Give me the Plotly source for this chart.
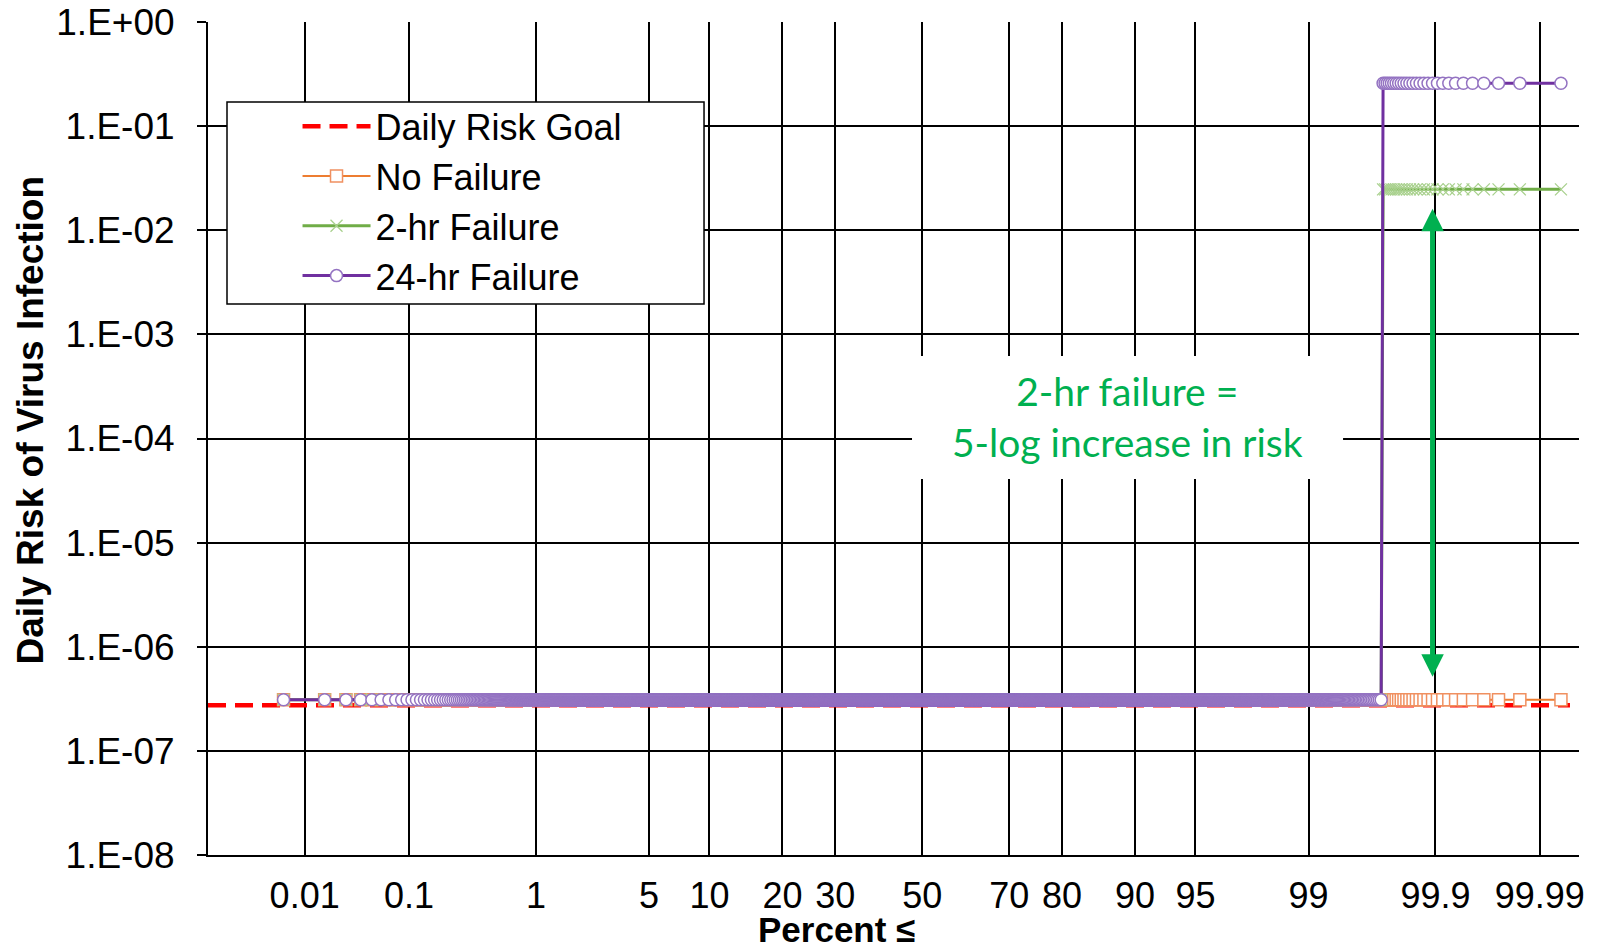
import math
import plotly.graph_objects as go
from statistics import NormalDist

# ---------------- data ----------------
N_DAYS = 10000  # simulated days ranked on the probability axis

percent_ticks = [0.01, 0.1, 1, 5, 10, 20, 30, 50, 70, 80, 90, 95, 99, 99.9, 99.99]
percent_tick_labels = ["0.01", "0.1", "1", "5", "10", "20", "30", "50",
                       "70", "80", "90", "95", "99", "99.9", "99.99"]
percent_axis_range = [0.00085, 99.99617]
goal_percent_span = [0.00085, 99.9952]

risk_ticks = [1e-8, 1e-7, 1e-6, 1e-5, 1e-4, 1e-3, 1e-2, 1e-1, 1e0]
risk_tick_labels = ["1.E-08", "1.E-07", "1.E-06", "1.E-05", "1.E-04",
                    "1.E-03", "1.E-02", "1.E-01", "1.E+00"]

goal_risk = 2.74e-7

# run-length description of the ranked daily risks (level, number of days)
no_failure_levels = [3.1e-7]
no_failure_days = [10000]
hr2_levels = [3.1e-7, 2.47e-2]
hr2_days = [9972, 28]
hr24_levels = [3.1e-7, 2.58e-1]
hr24_days = [9972, 28]

# arrow of the note: percent position and risk ends
arrow_percent = 99.894
arrow_risk_top = 0.0161
arrow_risk_bottom = 4.98e-7

# ---------------- probability (normal) scale ----------------
ND = NormalDist()


def prob_scale(percent):
    return ND.inv_cdf(percent / 100.0)


def ranked_series(levels, days):
    ys = [lvl for lvl, n in zip(levels, days) for _ in range(n)]
    n_tot = len(ys)
    xs = [prob_scale(100.0 * (i - 0.4) / (n_tot + 0.2)) for i in range(1, n_tot + 1)]
    return xs, ys


FONT = "Liberation Sans, Arial, sans-serif"

fig = go.Figure()

gx = [prob_scale(p) for p in goal_percent_span]
fig.add_trace(go.Scatter(
    x=gx, y=[goal_risk, goal_risk], mode="lines", name="Daily Risk Goal",
    legendgroup="g1",
    line=dict(color="#FF0000", width=4.5, dash="18px,9px"),
))

x_nf, y_nf = ranked_series(no_failure_levels, no_failure_days)
fig.add_trace(go.Scatter(
    x=x_nf, y=y_nf, mode="lines+markers", name="No Failure", legendgroup="g2",
    line=dict(color="#ED7D31", width=2),
    marker=dict(symbol="square", size=12, color="white",
                line=dict(color="#F09060", width=1.5)),
))

x_2, y_2 = ranked_series(hr2_levels, hr2_days)
fig.add_trace(go.Scatter(
    x=x_2, y=y_2, mode="lines+markers", name="2-hr Failure", legendgroup="g3",
    line=dict(color="#70AD47", width=3),
    marker=dict(symbol="x-thin", size=12, color="#A9D18E",
                line=dict(color="#A9D18E", width=1.3)),
))

x_24, y_24 = ranked_series(hr24_levels, hr24_days)
fig.add_trace(go.Scatter(
    x=x_24, y=y_24, mode="lines+markers", name="24-hr Failure", legendgroup="g4",
    line=dict(color="#7030A0", width=3),
    marker=dict(symbol="circle", size=12, color="white",
                line=dict(color="#9473C2", width=1.5)),
))

fig.update_layout(
    width=1599, height=948,
    margin=dict(l=208, r=20, t=22, b=93),
    plot_bgcolor="white", paper_bgcolor="white",
    font=dict(family=FONT, size=36, color="black"),
    showlegend=True,
    legend=dict(
        x=0.0653, y=0.9108, xanchor="left", yanchor="top",
        bgcolor="rgba(0,0,0,0)", borderwidth=0,
        font=dict(family=FONT, size=36, color="black"),
        itemwidth=68, tracegroupgap=0,
    ),
    xaxis=dict(
        range=[prob_scale(p) for p in percent_axis_range], tickmode="array",
        tickvals=[prob_scale(p) for p in percent_ticks],
        ticktext=percent_tick_labels, automargin=False,
        showgrid=True, gridcolor="black", gridwidth=2,
        zeroline=False, showline=True, linecolor="black", linewidth=2,
        ticks="", ticklabelstandoff=8,
        tickfont=dict(family=FONT, size=36, color="black"),
    ),
    yaxis=dict(
        type="log", range=[-8, 0], tickmode="array", automargin=False,
        tickvals=risk_ticks, ticktext=risk_tick_labels,
        showgrid=True, gridcolor="black", gridwidth=2,
        zeroline=False, showline=True, linecolor="black", linewidth=2,
        ticks="outside", ticklen=9, tickwidth=2, tickcolor="black",
        ticklabelstandoff=15,
        tickfont=dict(family=FONT, size=37, color="black"),
    ),
    shapes=[
        dict(type="rect", xref="paper", yref="paper",
             x0=0.01386, x1=0.3618, y0=0.6615, y1=0.9040,
             fillcolor="white", line=dict(color="black", width=1.5), layer="above"),
        dict(type="rect", xref="paper", yref="paper",
             x0=0.5135, x1=0.8279, y0=0.4514, y1=0.5990,
             fillcolor="white", line=dict(width=0), layer="above"),
    ],
    annotations=[
        dict(text="<b>Percent ≤</b>", xref="paper", yref="paper",
             x=0.4581, y=-0.0895, xanchor="center", yanchor="middle",
             showarrow=False, font=dict(family=FONT, size=35, color="black")),
        dict(text="<b>Daily Risk of Virus Infection</b>", xref="paper", yref="paper",
             x=-0.1291, y=0.5215, xanchor="center", yanchor="middle", textangle=-90,
             showarrow=False, font=dict(family=FONT, size=37, color="black")),
        dict(text="2-hr failure =<br>5-log increase in risk", xref="paper", yref="paper",
             x=0.6710, y=0.5265, xanchor="center", yanchor="middle", showarrow=False,
             font=dict(family="Lato, Open Sans, sans-serif", size=39, color="#00B050")),
        dict(text="", x=prob_scale(arrow_percent), y=math.log10(arrow_risk_top),
             ax=prob_scale(arrow_percent), ay=math.log10(arrow_risk_bottom),
             axref="x", ayref="y", xref="x", yref="y",
             showarrow=True, arrowhead=2, arrowside="end+start",
             arrowsize=0.9, arrowwidth=5, arrowcolor="#00B050"),
    ],
)

fig.write_html("out.html")
